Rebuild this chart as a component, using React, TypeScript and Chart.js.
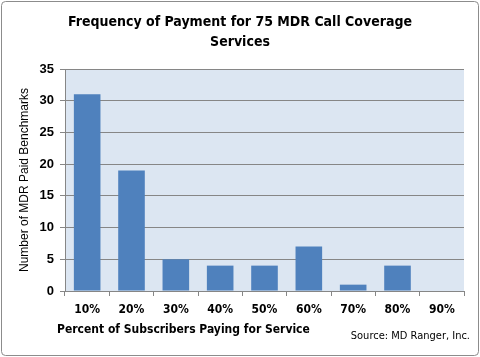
import React, { useEffect, useRef } from "react";
import { Chart, registerables } from "chart.js";

Chart.register(...registerables);

const categories = ["10%", "20%", "30%", "40%", "50%", "60%", "70%", "80%", "90%"];
const benchmarks = [31, 19, 5, 4, 4, 7, 1, 4, 0];
const titleLines = ["Frequency of Payment for 75 MDR Call Coverage", "Services"];
const yTitle = "Number of MDR Paid Benchmarks";
const xTitle = "Percent of Subscribers Paying for Service";
const sourceText = "Source: MD Ranger, Inc.";

const W = 480;
const H = 357;

const textPlugin = {
  id: "textPlugin",
  beforeDraw(chart: any) {
    const ctx = chart.ctx;
    ctx.save();
    ctx.fillStyle = "#ffffff";
    ctx.fillRect(0, 0, W, H);
    ctx.strokeStyle = "#8c8c8c";
    ctx.lineWidth = 1;
    ctx.beginPath();
    (ctx as any).roundRect(1.5, 1.5, W - 3, H - 3, 4);
    ctx.stroke();
    const a = chart.chartArea;
    ctx.fillStyle = "#dce6f2";
    ctx.fillRect(a.left, a.top, a.right - a.left, a.bottom - a.top);
    ctx.restore();
  },
  afterDraw(chart: any) {
    const ctx = chart.ctx;
    const area = chart.chartArea;
    ctx.save();
    ctx.fillStyle = "#000000";
    ctx.textAlign = "center";
    ctx.textBaseline = "middle";
    ctx.font = "bold 14px 'DejaVu Sans Condensed', 'DejaVu Sans', sans-serif";
    ctx.fillText(titleLines[0], 240, 22);
    ctx.fillText(titleLines[1], 240, 42);

    ctx.font = "12px 'Liberation Sans', Arial, sans-serif";
    ctx.translate(25, (area.top + area.bottom) / 2);
    ctx.rotate(-Math.PI / 2);
    ctx.fillText(yTitle, 0, 0);
    ctx.restore();

    ctx.save();
    ctx.fillStyle = "#000000";
    ctx.textBaseline = "middle";
    ctx.textAlign = "left";
    ctx.font = "bold 12px 'DejaVu Sans Condensed', 'DejaVu Sans', sans-serif";
    ctx.fillText(xTitle, 57, 330);
    ctx.textAlign = "right";
    ctx.font = "11px 'DejaVu Sans Condensed', 'DejaVu Sans', sans-serif";
    ctx.fillText(sourceText, 470, 336);
    ctx.restore();
  },
};

export default function App() {
  const ref = useRef<HTMLCanvasElement>(null);
  useEffect(() => {
    document.body.style.margin = "0";
    const canvas = ref.current!;
    const chart = new Chart(canvas, {
      type: "bar",
      data: {
        labels: categories,
        datasets: [
          {
            data: benchmarks,
            backgroundColor: "#4f81bd",
            borderWidth: 0,
            barPercentage: 0.6,
            categoryPercentage: 1,
          },
        ],
      },
      options: {
        animation: false,
        responsive: false,
        devicePixelRatio: 1,
        layout: { padding: { left: 0, right: 16, top: 69, bottom: 0 } },
        plugins: {
          legend: { display: false },
          title: { display: false },
          tooltip: { enabled: false },
        },
        scales: {
          x: {
            grid: {
              offset: true,
              drawOnChartArea: false,
              drawTicks: true,
              tickLength: 5,
              color: "#868686",
            },
            border: { display: true, color: "#868686" },
            ticks: {
              padding: 7,
              color: "#000000",
              font: { family: "'DejaVu Sans Condensed', 'DejaVu Sans', sans-serif", size: 12, weight: "bold" },
              maxRotation: 0,
            },
            afterFit(scale: any) {
              scale.height = H - 291;
            },
          },
          y: {
            min: 0,
            max: 35,
            ticks: {
              stepSize: 5,
              padding: 6,
              color: "#000000",
              font: { family: "'Liberation Sans', Arial, sans-serif", size: 13, weight: "bold" },
            },
            grid: {
              color: "#868686",
              tickLength: 5,
              drawTicks: true,
            },
            border: { display: true, color: "#868686" },
            afterFit(scale: any) {
              scale.width = 65;
            },
          },
        },
      },
      plugins: [textPlugin],
    } as any);
    return () => chart.destroy();
  }, []);
  return <canvas ref={ref} width={W} height={H} style={{ display: "block" }} />;
}
